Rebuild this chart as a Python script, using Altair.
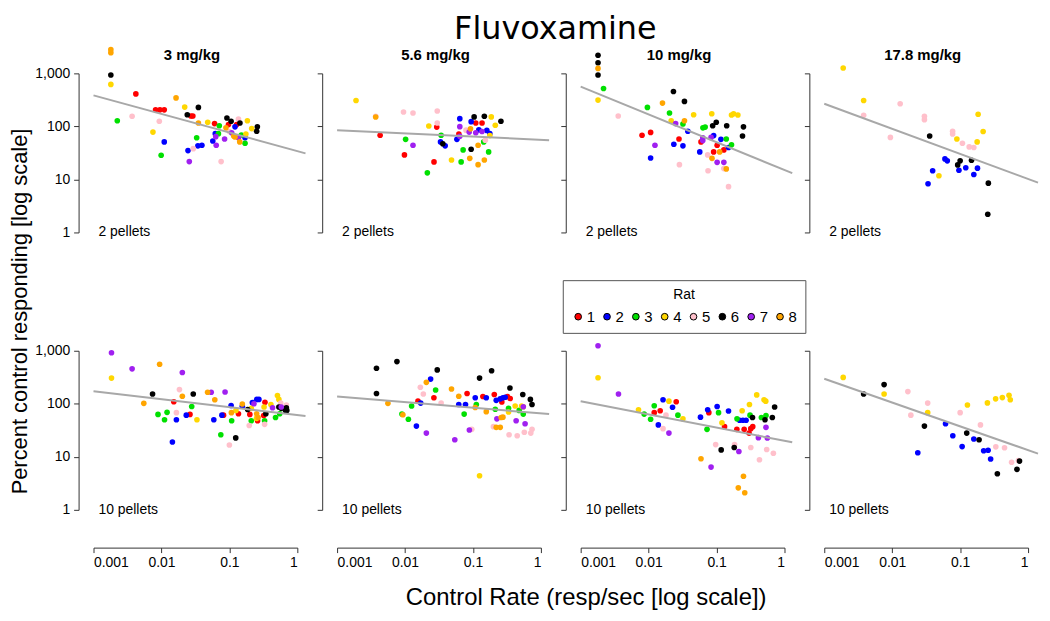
import altair as alt
import pandas as pd

RAT_IDS = ["1", "2", "3", "4", "5", "6", "7", "8"]
RAT_COLORS = ["#FF0000", "#0000FF", "#00E000", "#FFD700", "#FFC0CB", "#000000", "#A020F0", "#FFA500"]
DOSES = ["3", "5.6", "10", "17.8"]
PELLET_LABELS = ["2 pellets", "10 pellets"]
X_TICKS = [0.001, 0.01, 0.1, 1]
Y_TICKS = [1, 10, 100, 1000]

# ---------- 2 pellets ----------
A_RATE = {1: [0.0042, 0.0082, 0.0095, 0.011, 0.0272, 0.029, 0.0605, 0.097, 0.128],
          2: [0.011, 0.0246, 0.0344, 0.0394, 0.057, 0.062, 0.121, 0.17],
          3: [0.00224, 0.0099, 0.033, 0.071, 0.069, 0.17, 0.15],
          4: [0.0018, 0.0075, 0.022, 0.048, 0.184, 0.175, 0.213],
          5: [0.0037, 0.0093, 0.0294, 0.0756, 0.136, 0.1],
          6: [0.0018, 0.024, 0.035, 0.092, 0.106, 0.143, 0.258, 0.252],
          7: [0.0257, 0.063, 0.064, 0.085, 0.108, 0.136],
          8: [0.0018, 0.0018, 0.0164, 0.035, 0.089, 0.116, 0.121, 0.142]}
A_PCT = {1: [410, 205, 205, 205, 157, 157, 113, 108, 108],
         2: [51, 35, 43, 44, 53, 73, 98, 61],
         3: [128, 28.5, 61, 103, 73, 48, 69],
         4: [620, 78, 231, 120, 128, 72, 91],
         5: [155, 125, 38, 21.7, 138, 80],
         6: [930, 166, 228, 144, 125, 116, 98, 81],
         7: [21.7, 64, 44, 58, 76, 61],
         8: [2800, 2450, 345, 116, 94, 66, 63, 51]}

B_RATE = {1: [0.0043, 0.0098, 0.0293, 0.0267, 0.062, 0.11, 0.136],
          2: [0.0333, 0.039, 0.064, 0.058, 0.094, 0.122, 0.16, 0.177],
          3: [0.0102, 0.034, 0.0213, 0.067, 0.0716, 0.144, 0.17],
          4: [0.0019, 0.0224, 0.0483, 0.186, 0.213, 0.177],
          5: [0.0037, 0.0095, 0.0131, 0.0298, 0.0298, 0.079, 0.152],
          6: [0.036, 0.104, 0.147, 0.258, 0.094],
          7: [0.0131, 0.064, 0.064, 0.088, 0.11, 0.136],
          8: [0.0037, 0.092, 0.119, 0.0897, 0.147, 0.119]}
B_PCT = {1: [68, 29, 97, 21.4, 72, 116, 116],
         2: [51, 43, 140, 57, 123, 86, 84, 73],
         3: [57, 68, 13.3, 21.4, 36, 51, 33],
         4: [308, 102, 23.3, 151, 105, 67],
         5: [155, 187, 179, 195, 116, 85, 55],
         6: [47, 151, 155, 125, 37],
         7: [44, 99, 65, 78, 76, 80],
         8: [150, 90, 44, 25, 23.3, 19]}

C_RATE = {1: [0.008, 0.0107, 0.028, 0.059, 0.102, 0.0906, 0.128],
          2: [0.0107, 0.0378, 0.0235, 0.032, 0.0906, 0.0566, 0.116, 0.15],
          3: [0.00217, 0.0096, 0.0203, 0.032, 0.063, 0.068, 0.139, 0.166],
          4: [0.0018, 0.0215, 0.046, 0.085, 0.166, 0.178, 0.206],
          5: [0.00357, 0.0284, 0.074, 0.0749, 0.15, 0.128],
          6: [0.0018, 0.0018, 0.0018, 0.0232, 0.0337, 0.0877, 0.099, 0.141, 0.249, 0.241],
          7: [0.0124, 0.025, 0.0627, 0.0627, 0.083, 0.102, 0.128],
          8: [0.0018, 0.016, 0.0337, 0.111, 0.0857, 0.139]}
C_PCT = {1: [68, 77, 58, 51, 44, 33, 36],
         2: [25.4, 81, 46, 43, 67, 33, 57, 40],
         3: [518, 228, 179, 111, 94, 97, 58, 45],
         4: [313, 128, 166, 173, 164, 173, 164],
         5: [157, 19, 29, 14.6, 7.3, 16],
         6: [2200, 1590, 930, 454, 296, 103, 120, 103, 98, 66],
         7: [44, 113, 61, 54, 62, 21, 21],
         8: [1240, 275, 128, 33, 25, 15.8]}

D_RATE = {2: [0.0597, 0.0647, 0.0394, 0.0337, 0.096, 0.121, 0.18, 0.159],
          4: [0.0019, 0.0038, 0.0895, 0.184, 0.218, 0.178, 0.0487],
          5: [0.0038, 0.0131, 0.0094, 0.0298, 0.0298, 0.0775, 0.0775, 0.108, 0.136, 0.159],
          6: [0.0356, 0.1, 0.092, 0.147, 0.26, 0.255]}
D_PCT = {2: [24.4, 22.4, 14.6, 8.3, 14.9, 16.6, 16.3, 12.4],
         4: [1260, 308, 58, 169, 80, 51, 11.7],
         5: [162, 267, 62, 155, 134, 81, 72, 48, 41, 40],
         6: [66, 22.4, 18.8, 23, 8.5, 2.2]}

# ---------- 10 pellets ----------
E_RATE = {1: [0.0152, 0.0263, 0.082, 0.136, 0.2, 0.26, 0.334, 0.32],
          2: [0.0166, 0.0145, 0.0232, 0.059, 0.0776, 0.106, 0.155, 0.218, 0.252, 0.272],
          3: [0.0089, 0.0121, 0.0111, 0.0279, 0.0748, 0.108, 0.21, 0.33, 0.478, 0.55],
          4: [0.00184, 0.0333, 0.125, 0.21, 0.25, 0.324, 0.408, 0.51, 0.535],
          5: [0.0184, 0.0166, 0.1, 0.196, 0.33, 0.57, 0.69],
          6: [0.0074, 0.0294, 0.124, 0.186, 0.344, 0.535, 0.58, 0.69, 0.7, 0.67],
          7: [0.00184, 0.0037, 0.0203, 0.054, 0.0864, 0.23, 0.432, 0.58],
          8: [0.0094, 0.0055, 0.0203, 0.0478, 0.061, 0.107, 0.155, 0.252, 0.265]}
E_PCT = {1: [109, 63, 61, 65, 63, 48, 107, 60],
         2: [50, 19, 61, 50, 61, 93, 90, 105, 121, 121],
         3: [63, 69, 50, 89, 26, 48, 48, 48, 55, 65],
         4: [305, 50, 75, 82, 53, 87, 97, 143, 121],
         5: [185, 68, 16.7, 39, 41, 103, 95],
         6: [153, 153, 22.7, 78, 65, 87, 82, 84, 75, 75],
         7: [918, 456, 389, 165, 167, 100, 84, 87],
         8: [556, 102, 139, 165, 119, 68, 99, 65, 55]}

F_RATE = {1: [0.0155, 0.0266, 0.0819, 0.14, 0.206, 0.266, 0.322, 0.353],
          2: [0.017, 0.0147, 0.0238, 0.0618, 0.0776, 0.108, 0.157, 0.22, 0.252, 0.276, 0.298],
          3: [0.009, 0.0112, 0.0125, 0.0282, 0.0742, 0.112, 0.213, 0.334, 0.479, 0.55],
          4: [0.125, 0.334, 0.418, 0.52, 0.55],
          5: [0.0168, 0.0186, 0.034, 0.096, 0.2, 0.34, 0.448, 0.57, 0.71, 0.74],
          6: [0.0038, 0.0038, 0.0076, 0.0298, 0.125, 0.188, 0.35, 0.541, 0.7, 0.74],
          7: [0.0206, 0.054, 0.0885, 0.225, 0.432, 0.55, 0.585],
          8: [0.0056, 0.0093, 0.0206, 0.0483, 0.0618, 0.108, 0.157, 0.26, 0.276, 0.22, 0.252]}
F_PCT = {1: [112, 130, 156, 137, 150, 108, 137, 126],
         2: [103, 38, 292, 97, 97, 130, 130, 116, 124, 130, 133],
         3: [64, 51, 91, 182, 64, 97, 79, 82, 75, 64],
         4: [4.4, 70, 91, 91, 88],
         5: [205, 153, 103, 33, 37, 26, 25, 29, 28, 33],
         6: [468, 156, 624, 436, 305, 419, 199, 150, 121, 97],
         7: [28, 21, 32, 52, 48, 88, 42],
         8: [102, 62, 254, 190, 139, 85, 71, 55, 56, 36, 36]}

G_RATE = {1: [0.0121, 0.0148, 0.0255, 0.077, 0.131, 0.199, 0.255, 0.319, 0.341, 0.301],
          2: [0.0139, 0.0163, 0.0225, 0.058, 0.074, 0.102, 0.15, 0.218, 0.244, 0.272],
          3: [0.0086, 0.0107, 0.0121, 0.027, 0.0724, 0.107, 0.2, 0.311, 0.457, 0.534],
          4: [0.0018, 0.0071, 0.0199, 0.032, 0.12, 0.238, 0.305, 0.39, 0.5, 0.53],
          5: [0.0163, 0.018, 0.097, 0.184, 0.319, 0.547, 0.686, 0.428],
          6: [0.117, 0.182, 0.338, 0.516, 0.662, 0.716],
          7: [0.0018, 0.0036, 0.0199, 0.083, 0.213, 0.534, 0.413, 0.559],
          8: [0.059, 0.249, 0.209, 0.26]}
G_PCT = {1: [68, 74, 109, 68, 37, 33, 33, 34, 37, 28],
         2: [40, 119, 86, 56, 77, 89, 73, 49, 49, 49],
         3: [64, 51, 92, 61, 33, 68, 52, 61, 55, 60],
         4: [310, 77, 112, 52, 44, 74, 97, 147, 119, 112],
         5: [34, 61, 17, 17, 15, 13.7, 11.7, 8.8],
         6: [13.5, 15, 55, 50, 55, 87],
         7: [1240, 153, 28, 6.4, 12.6, 36, 23, 22.6],
         8: [9.2, 4.3, 2.6, 2.1]}

H_RATE = {2: [0.0238, 0.061, 0.078, 0.107, 0.159, 0.222, 0.258, 0.281],
          4: [0.0019, 0.0076, 0.0333, 0.128, 0.252, 0.333, 0.418, 0.524, 0.547],
          5: [0.017, 0.0188, 0.0333, 0.1, 0.199, 0.335, 0.45, 0.572, 0.72],
          6: [0.0038, 0.0076, 0.0298, 0.125, 0.19, 0.353, 0.686, 0.748]}
H_PCT = {2: [11.9, 42, 25, 15.6, 21.7, 13, 13.3, 9.1],
         4: [314, 153, 68, 95, 104, 124, 131, 145, 119],
         5: [170, 61, 103, 68, 40, 15.4, 14.8, 7.9, 8.5],
         6: [153, 230, 38, 28, 21, 4.8, 5.8, 8.3]}

# fitted (grey) lines: start / end points
FIT_X = {"A": [0.001, 1.32], "B": [0.001, 1.32], "C": [0.001, 1.3], "D": [0.001, 1.4],
         "E": [0.001, 1.32], "F": [0.001, 1.32], "G": [0.001, 1.3], "H": [0.001, 1.4]}
FIT_Y = {"A": [385, 31], "B": [85, 55], "C": [564, 13.1], "D": [267, 8.7],
         "E": [172, 59], "F": [137, 64], "G": [112, 18.8], "H": [297, 11.5]}

PANELS = [("A", A_RATE, A_PCT), ("B", B_RATE, B_PCT), ("C", C_RATE, C_PCT), ("D", D_RATE, D_PCT),
          ("E", E_RATE, E_PCT), ("F", F_RATE, F_PCT), ("G", G_RATE, G_PCT), ("H", H_RATE, H_PCT)]

FONT = "Liberation Sans"
AXIS_COLOR = "#333333"

x_scale = alt.Scale(type="log", domain=[0.001, 1], nice=False)
y_scale = alt.Scale(type="log", domain=[1, 1000], nice=False)
color_scale = alt.Scale(domain=RAT_IDS, range=RAT_COLORS)

legend = alt.Legend(
    title="Rat", orient="none", legendX=472, legendY=208, direction="horizontal",
    columns=8, titleAnchor="middle", titleFontSize=14, titleFontWeight="normal", titleFont=FONT,
    titleColor="black", titlePadding=7, labelFont=FONT, labelFontSize=15, labelColor="black",
    labelOffset=1, columnPadding=4, symbolType="circle", symbolSize=45,
    symbolStrokeColor="black", symbolStrokeWidth=1, strokeColor="#555555",
    fillColor="white", padding=8,
)


def make_panel(idx, key, rate, pct):
    row, col = divmod(idx, 4)
    recs = []
    for r in rate:
        for xv, yv in zip(rate[r], pct[r]):
            recs.append({"rat": str(r), "rate": xv, "pct": yv})
    df = pd.DataFrame(recs)
    fit = pd.DataFrame({"rate": FIT_X[key], "pct": FIT_Y[key]})
    lab = pd.DataFrame({"label": [PELLET_LABELS[row]]})

    y_kwargs = dict(values=Y_TICKS, format=",", offset=15, tickSize=5, labelPadding=4,
                    domainColor=AXIS_COLOR, tickColor=AXIS_COLOR, labelColor="black",
                    labelFont=FONT, labelFontSize=14, grid=False, labels=(col == 0))
    if row == 1 and col == 0:
        y_axis = alt.Axis(title="Percent control responding [log scale]", titleFont=FONT,
                          titleFontSize=22, titleFontWeight="normal", titleColor="black",
                          titleX=-59, titleY=-40, titleBaseline="middle", titleAlign="center",
                          titleAngle=270, **y_kwargs)
    else:
        y_axis = alt.Axis(title=None, **y_kwargs)

    if row == 1:
        x_kwargs = dict(values=X_TICKS, format="~g", offset=38, tickSize=5, labelPadding=3,
                        domainColor=AXIS_COLOR, tickColor=AXIS_COLOR, labelColor="black",
                        labelFont=FONT, labelFontSize=14, grid=False)
        if col == 2:
            x_axis = alt.Axis(title="Control Rate (resp/sec [log scale])", titleFont=FONT,
                              titleFontSize=24, titleFontWeight="normal", titleColor="black",
                              titleX=5, titleY=50, titleBaseline="middle", titleAlign="center",
                              **x_kwargs)
        else:
            x_axis = alt.Axis(title=None, **x_kwargs)
    else:
        x_axis = None

    pts = alt.Chart(df).mark_circle(size=32, opacity=1).encode(
        x=alt.X("rate:Q", scale=x_scale, axis=x_axis),
        y=alt.Y("pct:Q", scale=y_scale, axis=y_axis),
        color=alt.Color("rat:N", scale=color_scale, legend=legend),
    )
    line = alt.Chart(fit).mark_line(color="#A8A8A8", strokeWidth=2).encode(
        x=alt.X("rate:Q", scale=x_scale, axis=x_axis),
        y=alt.Y("pct:Q", scale=y_scale, axis=y_axis),
    )
    txt = alt.Chart(lab).mark_text(align="left", baseline="middle", font=FONT,
                                   fontSize=14, color="black").encode(
        x=alt.value(5), y=alt.value(160), text="label:N")
    layers = [pts, line, txt]
    if row == 0:
        ttl = pd.DataFrame({"t": [f"{DOSES[col]}  mg/kg"]})
        layers.append(alt.Chart(ttl).mark_text(align="center", baseline="alphabetic", font=FONT,
                                               fontSize=15, fontWeight="bold", color="black").encode(
            x=alt.value(99), y=alt.value(-13), text="t:N"))
    return alt.layer(*layers).properties(width=205, height=160)


panels = [make_panel(i, k, r, p) for i, (k, r, p) in enumerate(PANELS)]

chart = alt.concat(*panels, columns=4, spacing={"row": 119, "column": 40}).properties(
    bounds="flush",
    padding={"left": 0, "top": 3, "right": 0, "bottom": 0},
    title=alt.TitleParams("Fluvoxamine", font="DejaVu Sans", fontSize=32, fontWeight="normal",
                          color="black", anchor="middle", offset=1, dx=30),
).configure_view(stroke=None)

chart.save("out.html", embed_options={"renderer": "svg", "actions": False})
